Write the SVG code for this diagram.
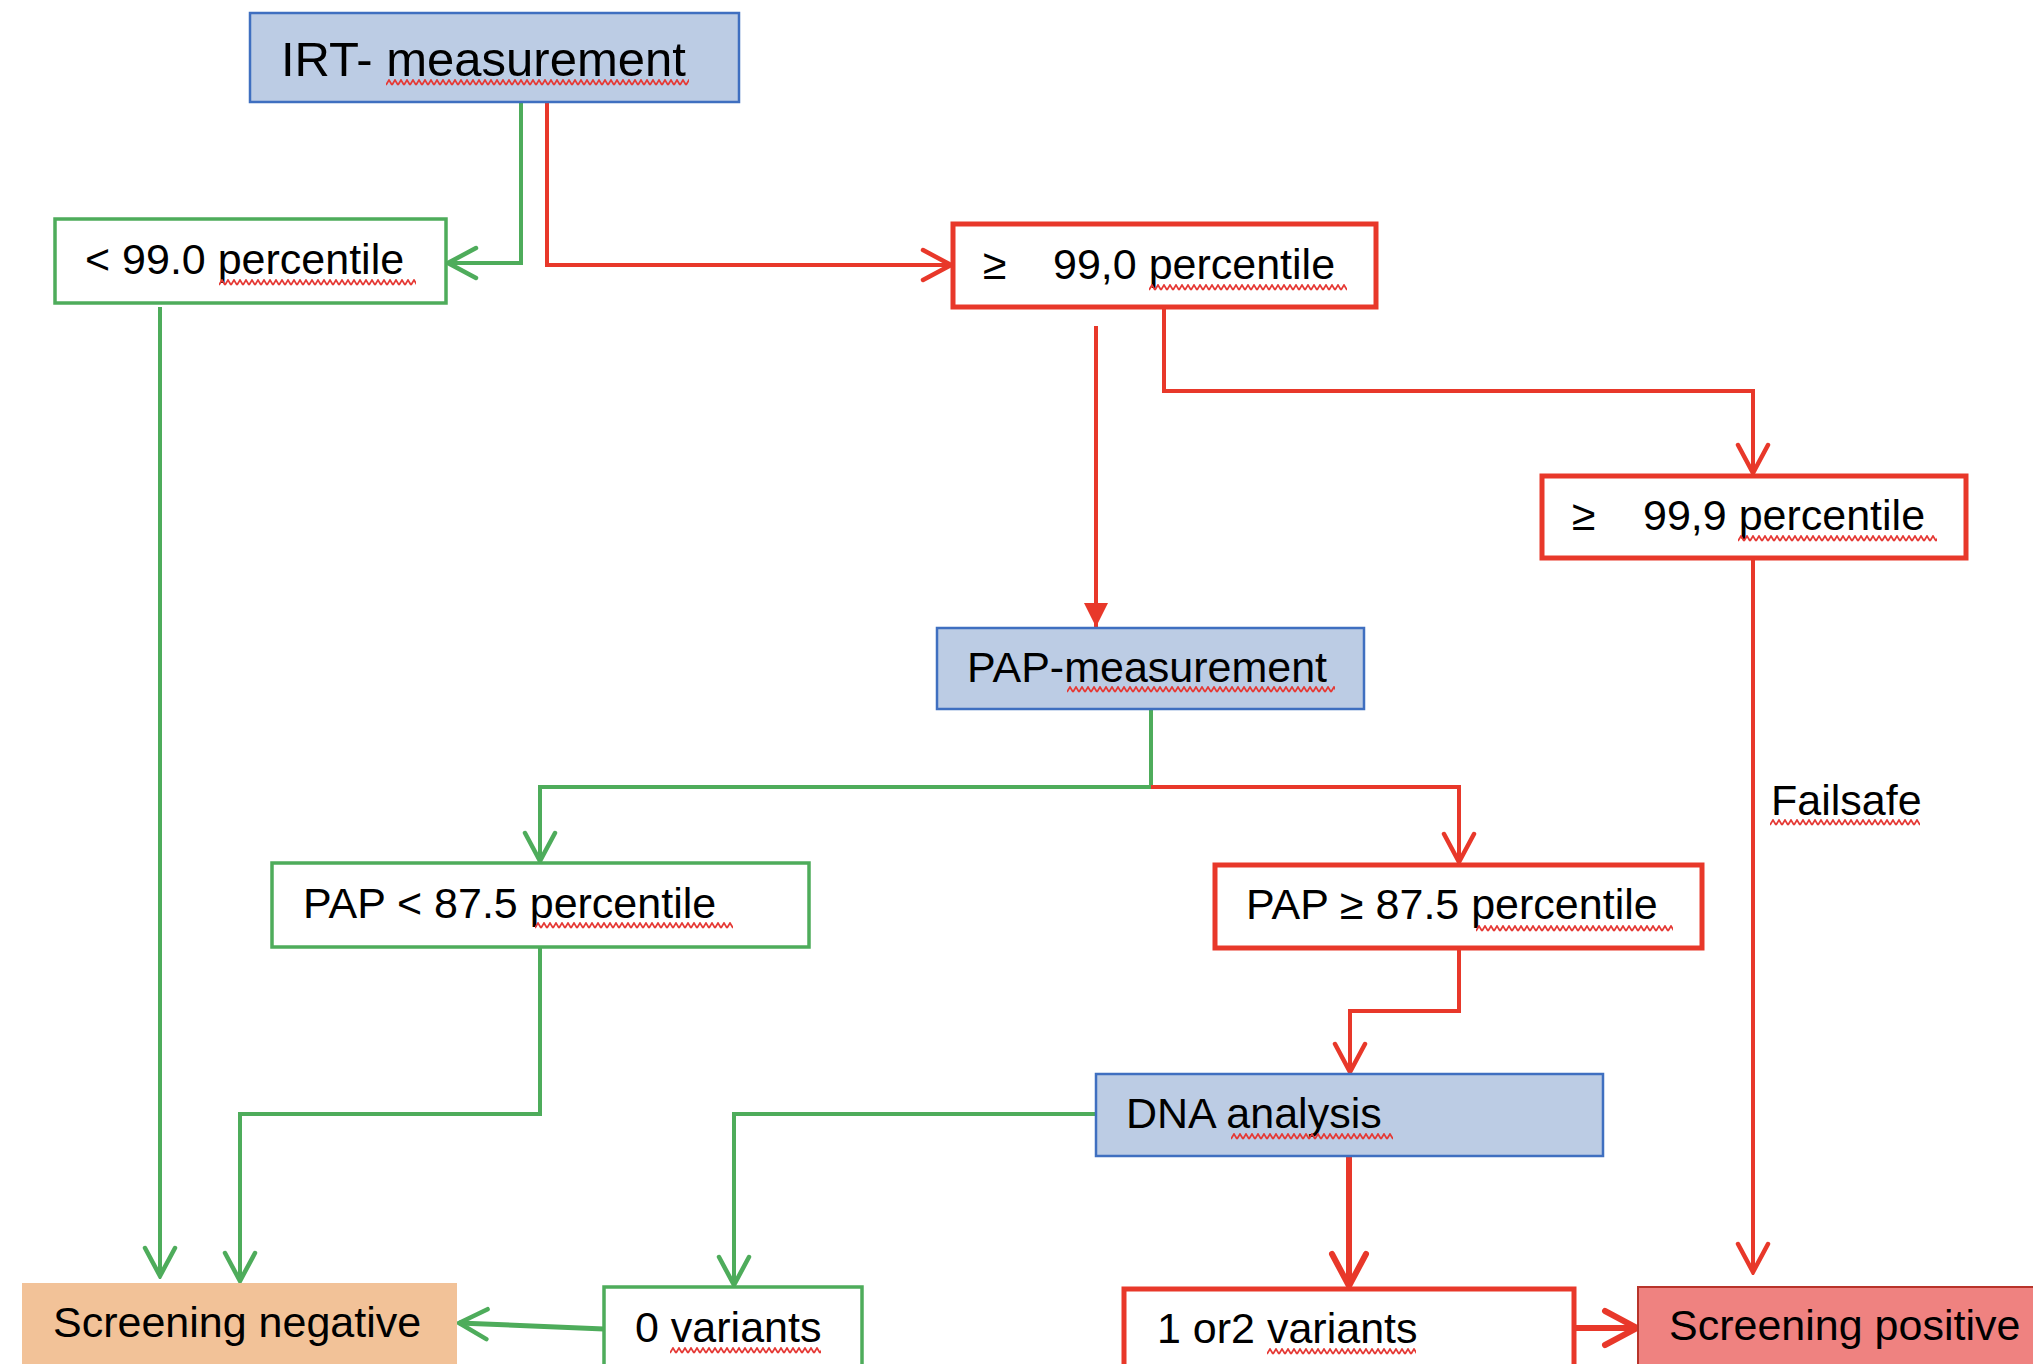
<svg xmlns="http://www.w3.org/2000/svg" width="2033" height="1364" viewBox="0 0 2033 1364">
<style>
text{font-family:"Liberation Sans",Arial,sans-serif;font-size:43px;fill:#000}
.blue{fill:#BCCCE4;stroke:#3F6FC0;stroke-width:2.5}
.green{fill:#fff;stroke:#4EAC5B;stroke-width:3.5}
.red{fill:#fff;stroke:#E8382A;stroke-width:5}
.neg{fill:#F2C298;stroke:none}
.pos{fill:#EF8280;stroke:#B8342A;stroke-width:2}
.cg{fill:none;stroke:#4EAC5B;stroke-width:4}
.cr{fill:none;stroke:#E8382A;stroke-width:4}
.wv{fill:url(#wavy)}
</style>
<defs>
<pattern id="wavy" width="6" height="7" patternUnits="userSpaceOnUse"><path d="M0,6 L3,1 L6,6" fill="none" stroke="#E53935" stroke-width="1.7"/></pattern>
<marker id="ag" viewBox="0 0 34 36" refX="31" refY="18" markerWidth="34" markerHeight="36" orient="auto" markerUnits="userSpaceOnUse"><path d="M3,3 L31,18 L3,33" fill="none" stroke="#4EAC5B" stroke-width="4.5" stroke-linecap="round"/></marker>
<marker id="ar" viewBox="0 0 34 36" refX="31" refY="18" markerWidth="34" markerHeight="36" orient="auto" markerUnits="userSpaceOnUse"><path d="M3,3 L31,18 L3,33" fill="none" stroke="#E8382A" stroke-width="4.5" stroke-linecap="round"/></marker>
<marker id="arf" viewBox="0 0 26 26" refX="24" refY="13" markerWidth="26" markerHeight="26" orient="auto" markerUnits="userSpaceOnUse"><path d="M0,1 L24,13 L0,25 Z" fill="#E8382A"/></marker>
<marker id="art" viewBox="0 0 40 42" refX="36" refY="21" markerWidth="40" markerHeight="42" orient="auto" markerUnits="userSpaceOnUse"><path d="M4,4 L36,21 L4,38" fill="none" stroke="#E8382A" stroke-width="6" stroke-linecap="round"/></marker>
</defs>
<g id="connectors">
<path class="cg" d="M521,103 V263 H448" marker-end="url(#ag)"/>
<path class="cg" d="M160,307 V1276" marker-end="url(#ag)"/>
<path class="cg" d="M1151,710 V787 H540 V861" marker-end="url(#ag)"/>
<path class="cg" d="M540,947 V1114 H240 V1281" marker-end="url(#ag)"/>
<path class="cg" d="M1096,1114 H734 V1285" marker-end="url(#ag)"/>
<path class="cg" style="stroke-width:5" d="M604,1329 L459,1323" marker-end="url(#ag)"/>
<path class="cr" d="M547,103 V265 H951" marker-end="url(#ar)"/>
<path class="cr" d="M1164,308 V391 H1753 V473" marker-end="url(#ar)"/>
<path class="cr" d="M1096,326 V627" marker-end="url(#arf)"/>
<path class="cr" d="M1151,787 H1459 V862" marker-end="url(#ar)"/>
<path class="cr" d="M1459,949 V1011 H1350 V1072" marker-end="url(#ar)"/>
<path class="cr" d="M1753,559 V1272" marker-end="url(#ar)"/>
<path class="cr" style="stroke-width:6" d="M1349,1156 V1286" marker-end="url(#art)"/>
<path class="cr" style="stroke-width:6" d="M1576,1328 H1637" marker-end="url(#art)"/>
</g>
<g id="irt">
<rect class="blue" x="250" y="13" width="489" height="89"/>
<text x="281" y="76" style="font-size:49px">IRT- measurement</text>
<rect class="wv" transform="translate(386,79)" width="303" height="7"/>
</g>
<g id="lt990">
<rect class="green" x="55" y="219" width="391" height="84"/>
<text x="85" y="274">&lt; 99.0 percentile</text>
<rect class="wv" transform="translate(219,279)" width="197" height="7"/>
</g>
<g id="ge990">
<rect class="red" x="953" y="224" width="423" height="83"/>
<text y="279"><tspan x="983">≥</tspan><tspan x="1053">99,0 percentile</tspan></text>
<rect class="wv" transform="translate(1149,284)" width="198" height="7"/>
</g>
<g id="ge999">
<rect class="red" x="1542" y="476" width="424" height="82"/>
<text y="530"><tspan x="1572">≥</tspan><tspan x="1643">99,9 percentile</tspan></text>
<rect class="wv" transform="translate(1738,535)" width="199" height="7"/>
</g>
<g id="failsafe">
<text x="1771" y="815">Failsafe</text>
<rect class="wv" transform="translate(1770,819)" width="150" height="7"/>
</g>
<g id="pap">
<rect class="blue" x="937" y="628" width="427" height="81"/>
<text x="967" y="682">PAP-measurement</text>
<rect class="wv" transform="translate(1067,686)" width="268" height="7"/>
</g>
<g id="paplt">
<rect class="green" x="272" y="863" width="537" height="84"/>
<text x="303" y="918">PAP &lt; 87.5 percentile</text>
<rect class="wv" transform="translate(535,922)" width="198" height="7"/>
</g>
<g id="papge">
<rect class="red" x="1215" y="865" width="487" height="83"/>
<text x="1246" y="919">PAP ≥ 87.5 percentile</text>
<rect class="wv" transform="translate(1476,925)" width="197" height="7"/>
</g>
<g id="dna">
<rect class="blue" x="1096" y="1074" width="507" height="82"/>
<text x="1126" y="1128">DNA analysis</text>
<rect class="wv" transform="translate(1231,1133)" width="162" height="7"/>
</g>
<g id="neg">
<rect class="neg" x="22" y="1283" width="435" height="100"/>
<text x="53" y="1337">Screening negative</text>
</g>
<g id="v0">
<rect class="green" x="604" y="1287" width="258" height="100"/>
<text x="635" y="1342">0 variants</text>
<rect class="wv" transform="translate(670,1347)" width="151" height="7"/>
</g>
<g id="v12">
<rect class="red" x="1124" y="1289" width="450" height="100"/>
<text x="1157" y="1343">1 or2 variants</text>
<rect class="wv" transform="translate(1267,1348)" width="149" height="7"/>
</g>
<g id="pos">
<rect class="pos" x="1638" y="1287" width="420" height="100"/>
<text x="1669" y="1340">Screening positive</text>
</g>
</svg>
